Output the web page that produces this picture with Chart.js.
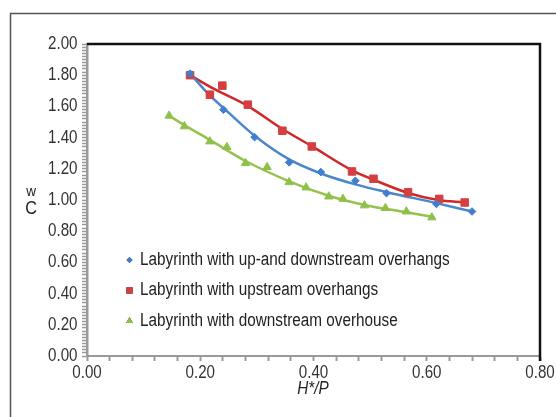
<!DOCTYPE html>
<html>
<head>
<meta charset="utf-8">
<script src="https://cdn.jsdelivr.net/npm/chart.js@4.4.0/dist/chart.umd.min.js"></script>
<style>
  html, body { margin: 0; padding: 0; background: #fff; }
  #wrap { width: 556px; height: 417px; position: relative; }
</style>
</head>
<body>
<div id="wrap"><canvas id="chart" width="556" height="417"></canvas></div>
<script>
// measured points (H*/P, Cw)
const blueX = [0.182, 0.241, 0.296, 0.357, 0.413, 0.474, 0.529, 0.617, 0.680];
const blueY = [1.81, 1.579, 1.403, 1.241, 1.179, 1.123, 1.044, 0.975, 0.926];

const redX = [0.182, 0.217, 0.239, 0.284, 0.345, 0.397, 0.468, 0.506, 0.567, 0.622, 0.667];
const redY = [1.80, 1.675, 1.733, 1.611, 1.444, 1.343, 1.183, 1.136, 1.050, 1.007, 0.984];

const greenX = [0.145, 0.172, 0.217, 0.247, 0.280, 0.318, 0.357, 0.387, 0.427, 0.452, 0.490, 0.527, 0.564, 0.609];
const greenY = [1.540, 1.472, 1.375, 1.339, 1.236, 1.211, 1.114, 1.080, 1.022, 1.007, 0.965, 0.948, 0.926, 0.888];

// trend lines
const blueFitX = [0.182, 0.217, 0.25, 0.30, 0.357, 0.413, 0.474, 0.53, 0.617, 0.68];
const blueFitY = [1.81, 1.67, 1.56, 1.40, 1.26, 1.17, 1.10, 1.05, 0.98, 0.926];
const redFitX = [0.182, 0.22, 0.285, 0.345, 0.397, 0.468, 0.506, 0.567, 0.62, 0.667];
const redFitY = [1.80, 1.72, 1.60, 1.455, 1.345, 1.19, 1.13, 1.045, 1.00, 0.985];
const greenFitX = [0.145, 0.172, 0.217, 0.28, 0.357, 0.427, 0.49, 0.564, 0.609];
const greenFitY = [1.54, 1.48, 1.385, 1.25, 1.12, 1.027, 0.968, 0.922, 0.893];

const labels = [
    "Labyrinth with up-and downstream overhangs",
    "Labyrinth with upstream overhangs",
    "Labyrinth with downstream overhouse"
];

const FONT = '"Liberation Sans", Arial, sans-serif';

function pts(xs, ys) {
    return xs.map((x, i) => ({x: x, y: ys[i]}));
}

function fitLine(xs, ys, color) {
    return {
        type: "line",
        data: pts(xs, ys),
        borderColor: color,
        borderWidth: 2.5,
        pointRadius: 0,
        cubicInterpolationMode: "monotone",
        fill: false,
        order: 2
    };
}

// no narrow font installed, so squeeze the text sideways
function narrowText(c, text, x, y, align, sx) {
    c.save();
    c.translate(x, y);
    c.scale(sx, 1);
    c.textAlign = align;
    c.textBaseline = "middle";
    c.fillText(text, 0, 0);
    c.restore();
}

const isMajor = v => Math.round(v * 100) % 20 === 0;

// frame, black top/right border, tick labels, titles, legend
const decor = {
    id: "decor",
    beforeDraw(chart) {
        const c = chart.ctx;
        c.save();
        c.fillStyle = "#fff";
        c.fillRect(0, 0, chart.width, chart.height);
        c.strokeStyle = "#555";
        c.lineWidth = 1.5;
        c.strokeRect(10.5, 13.5, 600, 450);
        c.restore();
    },
    afterDraw(chart) {
        const c = chart.ctx;
        const a = chart.chartArea;
        const xs = chart.scales.x, ys = chart.scales.y;
        c.save();
        c.strokeStyle = "#111";
        c.lineWidth = 2.5;
        c.beginPath();
        c.moveTo(a.left, a.top);
        c.lineTo(a.right, a.top);
        c.lineTo(a.right, a.bottom + 5);
        c.stroke();

        c.fillStyle = "#333";
        c.font = "18.5px " + FONT;
        ys.ticks.forEach(t => {
            if (isMajor(t.value)) narrowText(c, t.value.toFixed(2), 77.5, ys.getPixelForValue(t.value), "right", 0.82);
        });
        xs.ticks.forEach(t => {
            if (isMajor(t.value)) narrowText(c, t.value.toFixed(2), xs.getPixelForValue(t.value), 372.5, "center", 0.82);
        });

        c.fillStyle = "#222";
        c.font = "15px " + FONT;
        narrowText(c, "w", 31, 191.5, "center", 0.9);
        c.font = "18px " + FONT;
        narrowText(c, "C", 31, 209.5, "center", 0.9);
        c.font = "italic 18px " + FONT;
        narrowText(c, "H*/P", 313, 389, "center", 0.85);

        // legend
        const rows = [260, 290.5, 321];
        c.font = "18px " + FONT;
        chart.data.datasets.slice(0, 3).forEach((ds, i) => {
            Chart.helpers.drawPoint(c, {
                pointStyle: ds.pointStyle,
                radius: ds.legendRadius,
                borderWidth: 0
            }, 129.5, rows[i]);
            c.fillStyle = ds.backgroundColor;
            c.fill();
            c.fillStyle = "#222";
            narrowText(c, labels[i], 140, rows[i], "left", 0.85);
        });
        c.restore();
    }
};

new Chart(document.getElementById("chart"), {
    type: "scatter",
    data: {
        datasets: [
            {
                label: labels[0], data: pts(blueX, blueY),
                pointStyle: "rectRot", pointRadius: 3.8, legendRadius: 3,
                backgroundColor: "#3f7fcf", borderColor: "#3f7fcf", order: 1
            },
            {
                label: labels[1], data: pts(redX, redY),
                pointStyle: "rect", pointRadius: 5.3, legendRadius: 4.5,
                backgroundColor: "#d43f3f", borderColor: "#d43f3f", order: 1
            },
            {
                label: labels[2], data: pts(greenX, greenY),
                pointStyle: "triangle", pointRadius: 4.8, legendRadius: 4,
                backgroundColor: "#8fc04a", borderColor: "#8fc04a", order: 1
            },
            fitLine(blueFitX, blueFitY, "#4a86cc"),
            fitLine(redFitX, redFitY, "#d02828"),
            fitLine(greenFitX, greenFitY, "#94c24c")
        ]
    },
    options: {
        responsive: false,
        animation: false,
        layout: { padding: { top: 44, right: 16, left: 0, bottom: 0 } },
        plugins: { legend: { display: false }, tooltip: { enabled: false } },
        scales: {
            x: {
                type: "linear", min: 0, max: 0.8,
                afterFit(s) { s.height = 61; },
                border: { display: true, color: "#9a9a9a", width: 2 },
                grid: { drawOnChartArea: false, drawTicks: true, tickLength: 5, color: "#9a9a9a", tickWidth: 2 },
                ticks: { display: false, stepSize: 0.04, autoSkip: false }
            },
            y: {
                type: "linear", min: 0, max: 2,
                afterFit(s) { s.width = 87; },
                border: { display: true, color: "#9a9a9a", width: 2.5 },
                grid: { drawOnChartArea: false, drawTicks: true, tickLength: 5, color: "#9a9a9a", tickWidth: 1.5 },
                ticks: { display: false, stepSize: 0.02, autoSkip: false }
            }
        }
    },
    plugins: [decor]
});
</script>
</body>
</html>
